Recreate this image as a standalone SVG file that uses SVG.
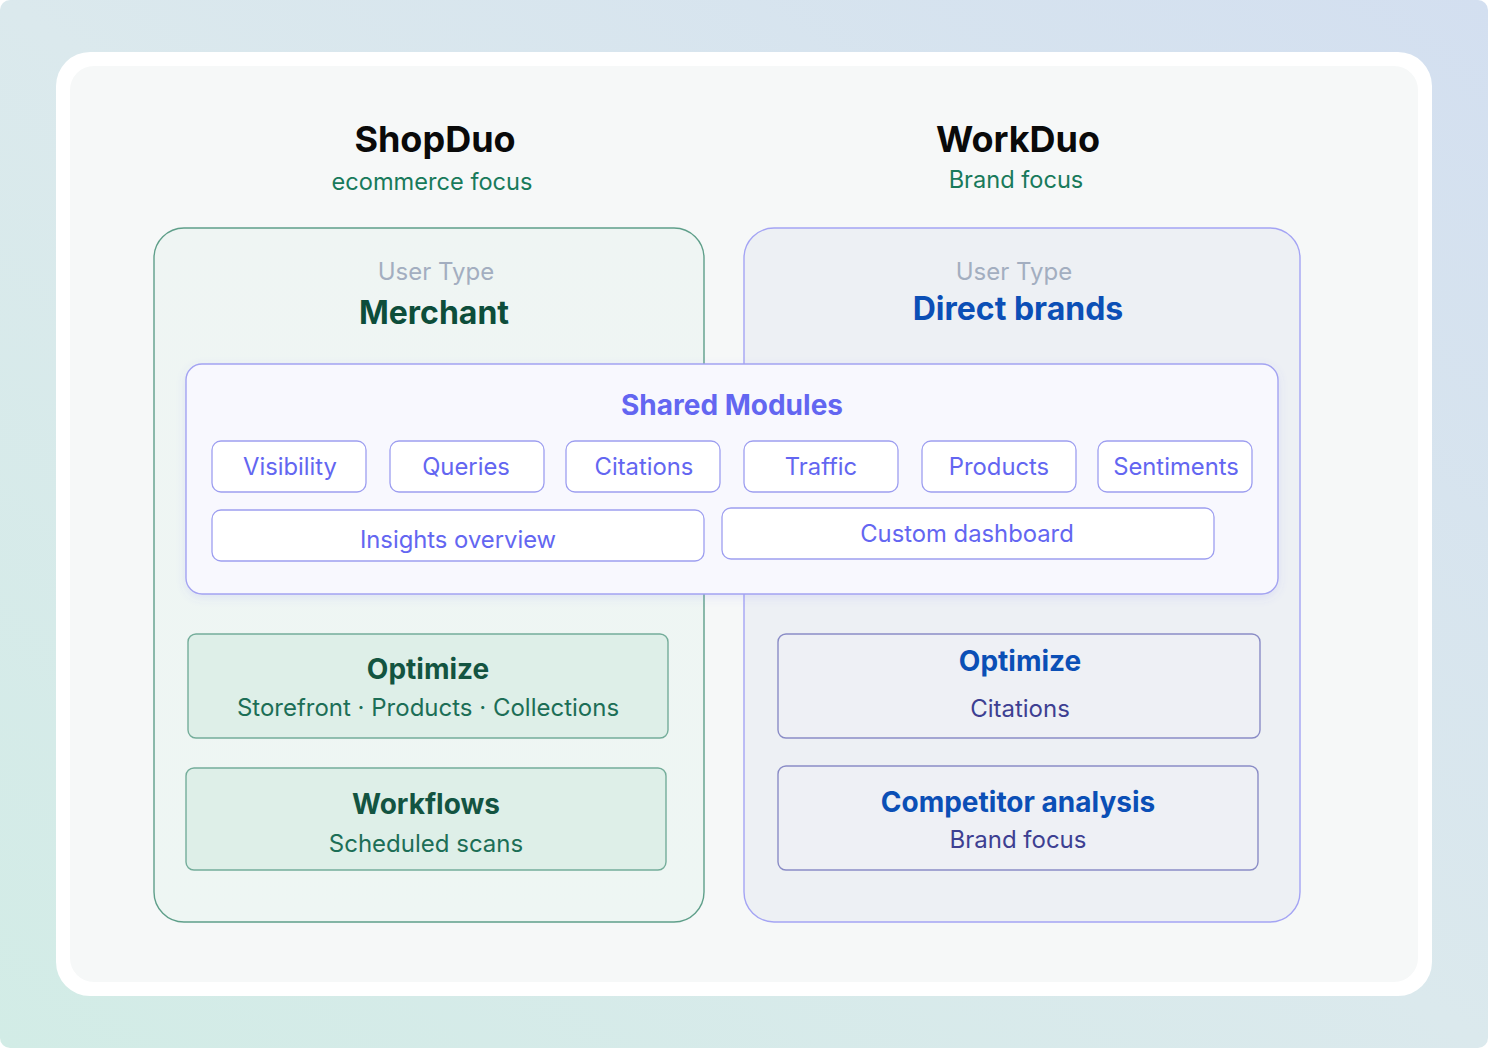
<svg xmlns="http://www.w3.org/2000/svg" width="1488" height="1048" viewBox="0 0 1488 1048">
<defs>
<linearGradient id="bg" x1="0" y1="1" x2="1" y2="0">
<stop offset="0" stop-color="#d2ece6"/>
<stop offset="0.5" stop-color="#dbe9ed"/>
<stop offset="1" stop-color="#d3dff0"/>
</linearGradient>
<linearGradient id="leftFill" x1="0" y1="0" x2="0" y2="1">
<stop offset="0" stop-color="#eff5f3"/>
<stop offset="1" stop-color="#eef6f3"/>
</linearGradient>
<filter id="sh" x="-10%" y="-10%" width="120%" height="130%">
<feDropShadow dx="0" dy="3" stdDeviation="5" flood-color="#6366f1" flood-opacity="0.12"/>
</filter>
</defs>
<style>
text{font-family:Inter,"Noto Sans","Liberation Sans",sans-serif;text-anchor:middle}
.h1{font-size:36px;font-weight:700;fill:#0a0a0a}
.sub{font-size:23.6px}
.ut{font-size:24px;fill:#a3aec0}
.pill rect{fill:#ffffff;stroke:#9d9ef0;stroke-width:1.3}
.pill text{font-size:23.8px;fill:#6366f1}
.gbox{fill:#deefe8;stroke:#74ad9a;stroke-width:1.4}
.bbox{fill:#eef0f5;stroke:#8a8cc6;stroke-width:1.4}
.gt{font-size:28px;font-weight:700;fill:#135441}
.gs{font-size:24px;fill:#1c6e56}
.bt{font-size:28px;font-weight:700;fill:#0b4fb6}
.bs{font-size:24px;fill:#3d3f92}
</style>
<rect x="0" y="0" width="1488" height="1048" rx="10" fill="url(#bg)"/>
<rect x="56" y="52" width="1376" height="944" rx="34" fill="#ffffff"/>
<rect x="70" y="66" width="1348" height="916" rx="24" fill="#f6f8f8"/>

<g id="shopduo-header">
<text class="h1" x="435" y="152">ShopDuo</text>
<text class="sub" x="432" y="190" fill="#187a5b">ecommerce focus</text>
</g>
<g id="workduo-header">
<text class="h1" x="1018" y="152">WorkDuo</text>
<text class="sub" x="1016" y="188" fill="#187a5b">Brand focus</text>
</g>

<g id="merchant">
<rect x="154" y="228" width="550" height="694" rx="30" fill="url(#leftFill)" stroke="#5f9f8a" stroke-width="1.4"/>
<text class="ut" x="436" y="280">User Type</text>
<text x="434" y="324" font-size="32" font-weight="700" fill="#0d4d3a">Merchant</text>
</g>
<g id="direct-brands">
<rect x="744" y="228" width="556" height="694" rx="30" fill="#edf0f4" stroke="#a4a4f4" stroke-width="1.4"/>
<text class="ut" x="1014" y="280">User Type</text>
<text x="1018" y="320" font-size="32" font-weight="700" fill="#0b4fb6">Direct brands</text>
</g>

<g id="shared-modules">
<rect x="186" y="364" width="1092" height="230" rx="16" fill="#f8f8fe" stroke="#a3a3f2" stroke-width="1.4" filter="url(#sh)"/>
<text x="732" y="415" font-size="28" font-weight="700" fill="#6366f1">Shared Modules</text>
</g>
<g id="visibility" class="pill"><rect x="212" y="441" width="154" height="51" rx="9"/><text x="290" y="475">Visibility</text></g>
<g id="queries" class="pill"><rect x="390" y="441" width="154" height="51" rx="9"/><text x="466" y="475">Queries</text></g>
<g id="citations" class="pill"><rect x="566" y="441" width="154" height="51" rx="9"/><text x="644" y="475">Citations</text></g>
<g id="traffic" class="pill"><rect x="744" y="441" width="154" height="51" rx="9"/><text x="821" y="475">Traffic</text></g>
<g id="products" class="pill"><rect x="922" y="441" width="154" height="51" rx="9"/><text x="999" y="475">Products</text></g>
<g id="sentiments" class="pill"><rect x="1098" y="441" width="154" height="51" rx="9"/><text x="1176" y="475">Sentiments</text></g>
<g id="insights-overview" class="pill"><rect x="212" y="510" width="492" height="51" rx="9"/><text x="458" y="548">Insights overview</text></g>
<g id="custom-dashboard" class="pill"><rect x="722" y="508" width="492" height="51" rx="9"/><text x="967" y="542">Custom dashboard</text></g>

<g id="optimize-shop">
<rect class="gbox" x="188" y="634" width="480" height="104" rx="8"/>
<text class="gt" x="428" y="679">Optimize</text>
<text class="gs" x="428" y="716">Storefront · Products · Collections</text>
</g>
<g id="workflows">
<rect class="gbox" x="186" y="768" width="480" height="102" rx="8"/>
<text class="gt" x="426" y="814">Workflows</text>
<text class="gs" x="426" y="852">Scheduled scans</text>
</g>
<g id="optimize-work">
<rect class="bbox" x="778" y="634" width="482" height="104" rx="8"/>
<text class="bt" x="1020" y="671">Optimize</text>
<text class="bs" x="1020" y="717">Citations</text>
</g>
<g id="competitor-analysis">
<rect class="bbox" x="778" y="766" width="480" height="104" rx="8"/>
<text class="bt" x="1018" y="812">Competitor analysis</text>
<text class="bs" x="1018" y="848">Brand focus</text>
</g>
<g id="connectors"></g>
</svg>
